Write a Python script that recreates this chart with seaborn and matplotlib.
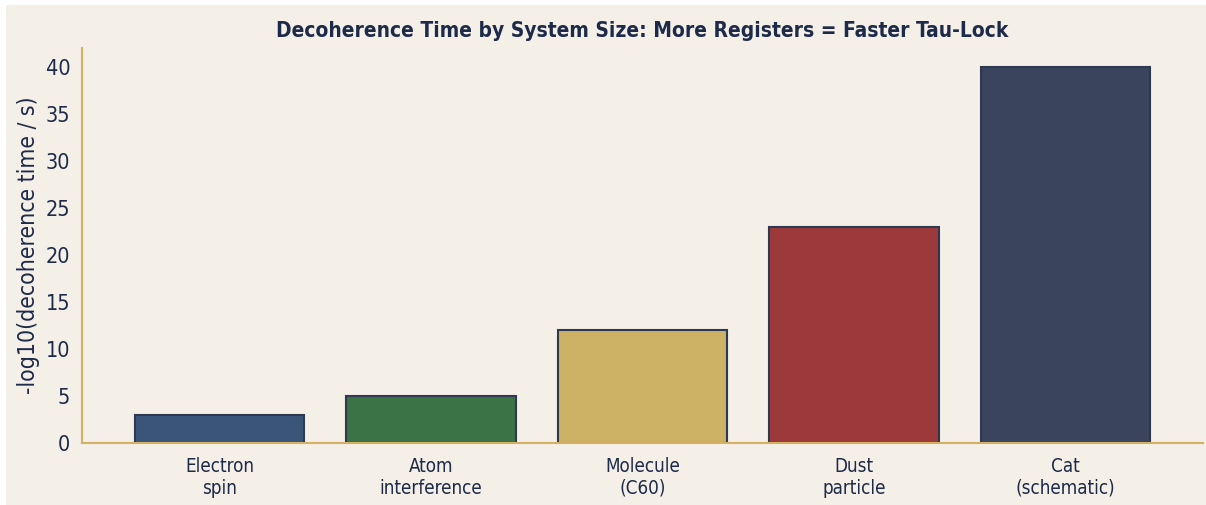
import pandas as pd
import matplotlib
matplotlib.use('Agg')
import matplotlib.pyplot as plt
import seaborn as sns
from matplotlib.patches import Rectangle

# данные
systems = ['Electron\nspin', 'Atom\ninterference', 'Molecule\n(C60)', 'Dust\nparticle', 'Cat\n(schematic)']
neg_log_tau = [3, 5, 12, 23, 40]
bar_colors = ['#3b5579', '#3b7345', '#cdb265', '#9c3a3b', '#3a445c']

bg = '#f4efe7'
ink = '#1e2a4a'
gold = '#d4b063'

df = pd.DataFrame({'system': systems, 'value': neg_log_tau})

sns.set_style('white')
plt.rcParams['font.family'] = ['DejaVu Sans']
plt.rcParams['font.stretch'] = 'condensed'

fig = plt.figure(figsize=(12.06, 5.05), dpi=100, facecolor='white')
fig.patches.append(Rectangle((6 / 1206, 0), 1, 1 - 5 / 505, transform=fig.transFigure,
                             facecolor=bg, edgecolor='none', zorder=-10))
ax = fig.add_axes([82 / 1206, 1 - 443 / 505, (1203 - 82) / 1206, (443 - 48) / 505])
ax.set_facecolor(bg)

sns.barplot(data=df, x='system', y='value', hue='system', palette=bar_colors,
            legend=False, width=0.8, edgecolor='#2e3850', linewidth=1.5, ax=ax, saturation=1)

ax.set_ylim(0, 42)
ax.set_xlim(-0.65, 4.65)
ax.set_xlabel('')
ax.set_ylabel('-log10(decoherence time / s)', fontsize=16.5, color=ink, labelpad=4)
ax.set_title('Decoherence Time by System Size: More Registers = Faster Tau-Lock',
             fontsize=15, fontweight='bold', color=ink, pad=8)

sns.despine(ax=ax)
for side in ['left', 'bottom']:
    ax.spines[side].set_color(gold)
    ax.spines[side].set_linewidth(1.5)

ax.tick_params(axis='both', colors='#3a4258', length=5, width=1.2, labelcolor=ink)
ax.tick_params(axis='y', labelsize=15.5)
ax.tick_params(axis='x', labelsize=13.5, pad=5)

fig.savefig('out.png', dpi=100, facecolor='white')
